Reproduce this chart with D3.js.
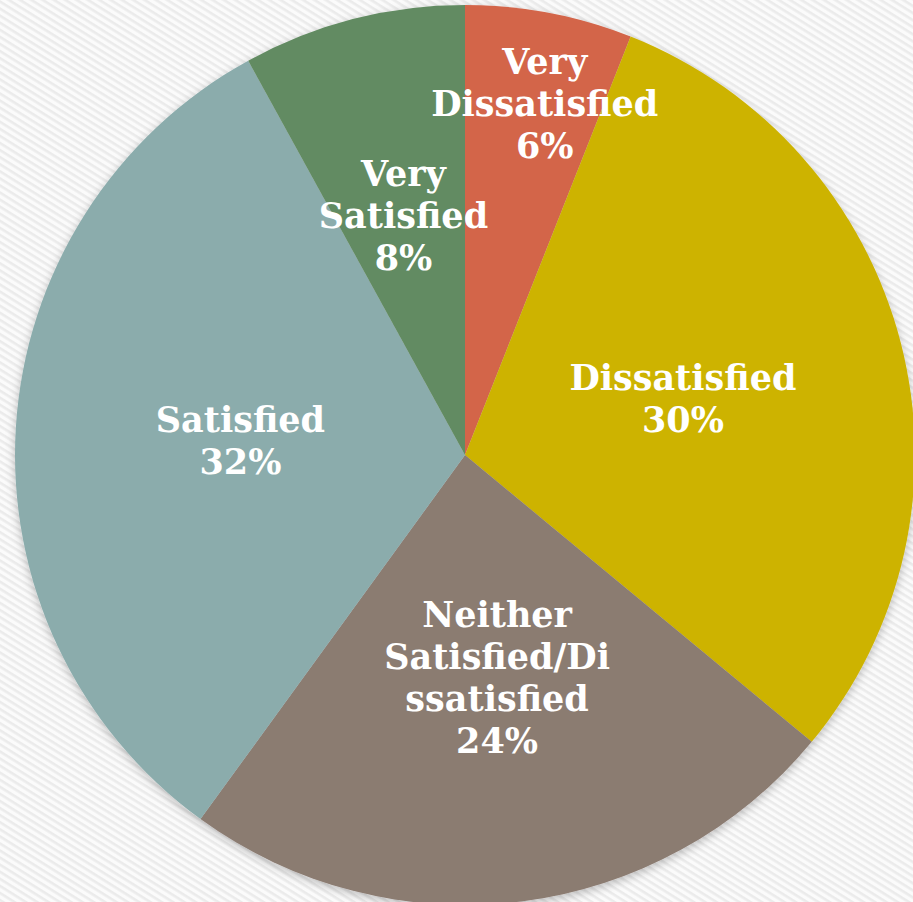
<!DOCTYPE html>
<html>
<head>
<meta charset="utf-8">
<script src="https://cdn.jsdelivr.net/npm/d3@7/dist/d3.min.js"></script>
<style>
  html, body { margin: 0; padding: 0; background: #ffffff; }
  svg { display: block; }
</style>
</head>
<body>
<svg id="chart" width="913" height="902"></svg>
<script>
// Satisfaction survey results (percent of respondents)
const categories = ["Very Dissatisfied", "Dissatisfied", "Neither Satisfied/Dissatisfied", "Satisfied", "Very Satisfied"];
const values = [6, 30, 24, 32, 8];
const labelLines = [
  ["Very", "Dissatisfied"],
  ["Dissatisfied"],
  ["Neither", "Satisfied/Di", "ssatisfied"],
  ["Satisfied"],
  ["Very", "Satisfied"]
];
const colors = ["#D3654A", "#CDB300", "#8B7B71", "#8BACAC", "#628B62"];

// Layout
const width = 913, height = 902;
const cx = 465, cy = 455, radius = 450;
const labelRadiusFrac = [0.80, 0.50, 0.50, 0.50, 0.55];
const labelAngleShift = [2, 0, -1, 0, 0];   // degrees, nudges crowded labels
const lineHeight = 42;

const svg = d3.select("#chart");
const defs = svg.append("defs");

// Diagonal striped backdrop
const pat = defs.append("pattern")
  .attr("id", "stripes")
  .attr("patternUnits", "userSpaceOnUse")
  .attr("width", 6).attr("height", 6)
  .attr("patternTransform", "rotate(32)");
pat.append("rect").attr("width", 6).attr("height", 6).attr("fill", "#fbfbfb");
pat.append("rect").attr("width", 6).attr("height", 2.6).attr("fill", "#ebebeb");

svg.append("rect").attr("width", width).attr("height", height).attr("fill", "url(#stripes)");

// Soft shadow round the pie
const filt = defs.append("filter").attr("id", "shadow")
  .attr("x", "-10%").attr("y", "-10%").attr("width", "120%").attr("height", "120%");
filt.append("feDropShadow")
  .attr("dx", 0).attr("dy", 3).attr("stdDeviation", 5)
  .attr("flood-color", "#000").attr("flood-opacity", 0.25);

const pie = d3.pie().sort(null).value(d => d);
const arcs = pie(values);
const arc = d3.arc().innerRadius(0).outerRadius(radius);

const g = svg.append("g").attr("transform", `translate(${cx},${cy})`);

g.append("g").attr("filter", "url(#shadow)")
  .selectAll("path")
  .data(arcs)
  .join("path")
  .attr("d", arc)
  .attr("fill", (d, i) => colors[i]);

// Labels: category name lines followed by the percentage
const labels = g.selectAll("text.lbl")
  .data(arcs)
  .join("text")
  .attr("class", "lbl")
  .attr("transform", (d, i) => {
    const r = radius * labelRadiusFrac[i];
    const a = (d.startAngle + d.endAngle) / 2 + labelAngleShift[i] * Math.PI / 180;
    return `translate(${r * Math.sin(a)},${-r * Math.cos(a)})`;
  })
  .attr("text-anchor", "middle")
  .attr("fill", "#ffffff")
  .style("font-family", "'DejaVu Serif', 'Liberation Serif', serif")
  .style("font-weight", "bold")
  .style("font-size", "35px");

labels.each(function (d, i) {
  const lines = labelLines[i].concat([Math.round(values[i]) + "%"]);
  const n = lines.length;
  const t = d3.select(this);
  lines.forEach((ln, k) => {
    t.append("tspan")
      .attr("x", 0)
      .attr("y", (k - (n - 1) / 2) * lineHeight)
      .attr("dy", "0.35em")
      .text(ln);
  });
});
</script>
</body>
</html>
